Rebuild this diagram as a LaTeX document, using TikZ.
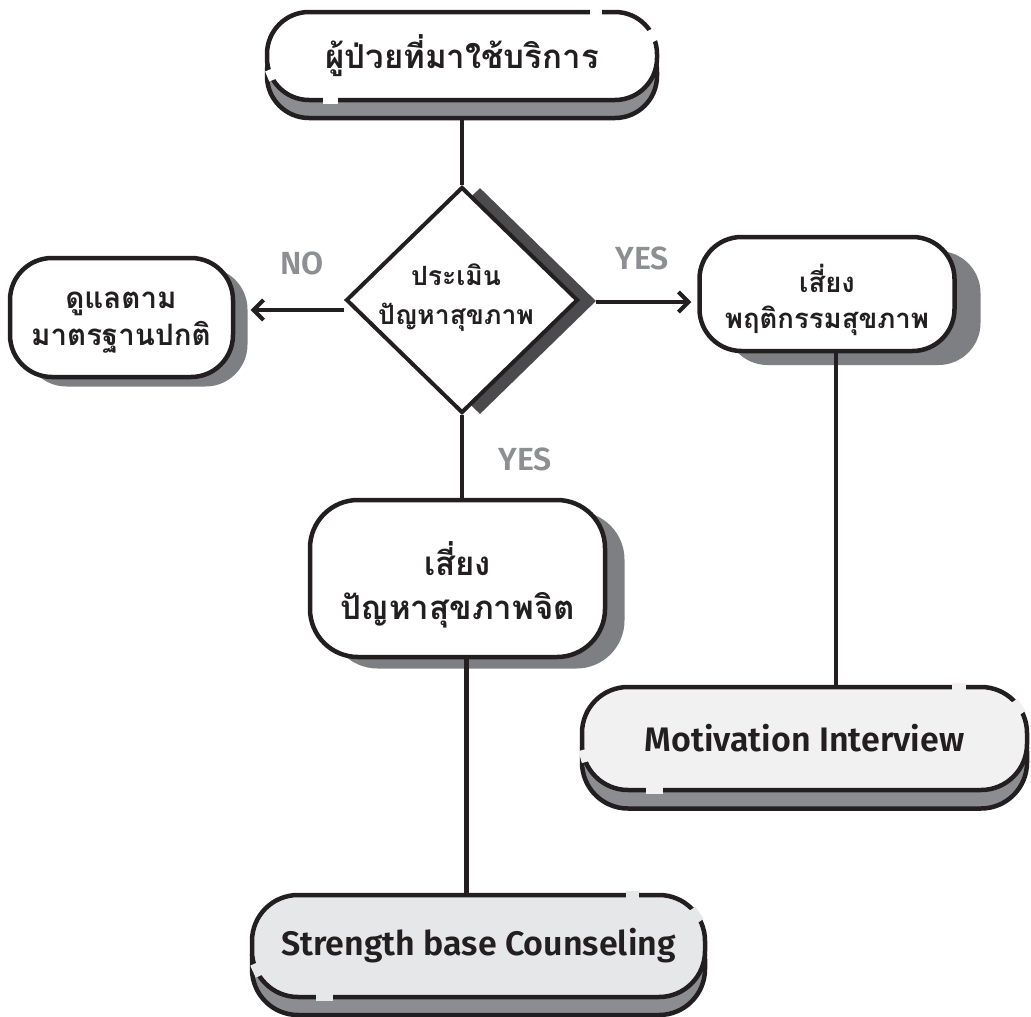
\documentclass[tikz,border=0pt]{standalone}
\usepackage{fontspec}
\IfFontExistsTF{Fira Sans Medium}{\setmainfont{Fira Sans Medium}[BoldFont={Fira Sans SemiBold}]}{\setmainfont{Fira Sans}}
\newfontfamily\thai[Script=Thai]{Loma}
\usetikzlibrary{arrows.meta,shapes.geometric}
\definecolor{ink}{HTML}{231F20}
\definecolor{pillgray}{HTML}{8C8D90}
\definecolor{boxgray}{HTML}{7E7F82}
\definecolor{diagray}{HTML}{4B4B4D}
\definecolor{lblgray}{HTML}{8E8F92}
\definecolor{mifill}{HTML}{F1F1F2}
\definecolor{sbfill}{HTML}{E6E7E8}
\begin{document}
\begin{tikzpicture}[x=1pt,y=-1pt,
  line/.style={draw=ink, line width=4.5pt},
  arr/.style={line, -{Straight Barb[length=10pt,width=20pt,line width=4pt]}},
  pill/.style={rectangle, rounded corners=42pt, draw=ink, line width=4.5pt, inner sep=0pt, align=center},
  bx/.style={rectangle, rounded corners=42pt, draw=ink, line width=4.5pt, inner sep=0pt},
  bxshadow/.style={rectangle, rounded corners=42pt, fill=boxgray, inner sep=0pt},
  thtxt/.style={text=ink, align=center, inner sep=0pt},
  entxt/.style={font=\bfseries\fontsize{34}{38}\selectfont, text=ink},
  lbl/.style={font=\bfseries\fontsize{32}{34}\selectfont, text=lblgray},
  gapw/.style={draw=white, line width=8pt},
  gapm/.style={draw=mifill, line width=8pt},
  gaps/.style={draw=sbfill, line width=8pt}
]
\useasboundingbox[fill=white] (0,0) rectangle (1031,1017);

% top pill
\node[pill, fill=pillgray, minimum width=390pt, minimum height=88pt] (topS) at (462,74) {};
\node[pill, fill=white, minimum width=390pt, minimum height=88pt, font=\thai\bfseries\fontsize{33}{36}\selectfont, text=ink] (top) at (462,56) {ผู้ป่วยที่มาใช้บริการ};
\draw[gapw] (590,12) -- (602,12);
\draw[gapw] (649.5,30) -- (655,41);
\draw[gapw] (323,100) -- (338,100);
\draw[gapw] (268.8,70) -- (273,80);

% diamond
\node[diamond, fill=diagray, minimum width=232pt, minimum height=226pt, inner sep=0pt] (diaS) at (480,301) {};
\node[diamond, draw=ink, line width=4pt, fill=white, minimum width=232pt, minimum height=226pt, inner sep=0pt] (dia) at (462,300) {};
\node[thtxt, font=\thai\bfseries\fontsize{26.5}{39}\selectfont] (diatext) at (456,298) {ประเมิน\\ปัญหาสุขภาพ};

% left box
\node[bxshadow, minimum width=223pt, minimum height=119pt] (lbS) at (136,327) {};
\node[bx, fill=white, minimum width=223pt, minimum height=119pt] (lb) at (121.5,317.5) {};
\node[thtxt, font=\thai\bfseries\fontsize{29.5}{37}\selectfont] (lbt) at (121,323) {ดูแลตาม\\มาตรฐานปกติ};

% right box
\node[bxshadow, minimum width=255pt, minimum height=114pt] (rbS) at (853,308) {};
\node[bx, fill=white, minimum width=255pt, minimum height=114pt] (rb) at (827,294) {};
\node[thtxt, font=\thai\bfseries\fontsize{27.5}{36}\selectfont] (rbt) at (827,300) {เสี่ยง\\พฤติกรรมสุขภาพ};

% middle box
\node[bxshadow, minimum width=295pt, minimum height=157pt, rounded corners=48pt] (mbS) at (477,590) {};
\node[bx, fill=white, minimum width=295pt, minimum height=157pt, rounded corners=48pt] (mb) at (457.5,578.5) {};
\node[thtxt, font=\thai\bfseries\fontsize{33}{44}\selectfont] (mbt) at (457.5,585) {เสี่ยง\\ปัญหาสุขภาพจิต};

% Motivation Interview
\node[pill, fill=pillgray, minimum width=445pt, minimum height=103pt, rounded corners=46pt] (miS) at (804.5,757) {};
\node[pill, fill=mifill, minimum width=445pt, minimum height=103pt, rounded corners=46pt, entxt] (mi) at (804.5,738.5) {Motivation Interview};
\draw[gapm] (952,687) -- (966,687);
\draw[gapm] (1014,701) -- (1022.4,713);
\draw[gapm] (582.4,750) -- (585.7,762);
\draw[gapm] (646,790) -- (663,790);

% Strength base Counseling
\node[pill, fill=pillgray, minimum width=453pt, minimum height=102pt, rounded corners=46pt] (sbS) at (478.5,964) {};
\node[pill, fill=sbfill, minimum width=453pt, minimum height=102pt, rounded corners=46pt, entxt] (sb) at (478.5,946) {Strength base Counseling};
\draw[gaps] (626,895) -- (639,895);
\draw[gaps] (692,909) -- (700.4,921);
\draw[gaps] (253.9,964) -- (259.4,976);
\draw[gaps] (316,997) -- (333,997);

% connectors
\draw[line] (topS.south) -- (dia.north);
\draw[arr] ([yshift=-10pt]dia.west) -- ([xshift=3pt,yshift=-10pt]dia.west -| lbS.east);
\draw[arr] ([yshift=-1pt]diaS.east) -- ([xshift=-6pt,yshift=-1pt]diaS.east -| rb.west);
\draw[line] (dia.south) -- (dia.south |- mb.north);
\coordinate (rbd) at ([xshift=9pt]rb.south);
\draw[line] (rbd) -- (rbd |- mi.north);
\coordinate (mbd) at ([xshift=9pt]mb.south);
\draw[line] (mbd) -- (mbd |- sb.north);

% labels
\node[lbl] (no) at (302,263) {NO};
\node[lbl] (yes1) at (642,258) {YES};
\node[lbl] (yes2) at (525,459) {YES};
\end{tikzpicture}
\end{document}
